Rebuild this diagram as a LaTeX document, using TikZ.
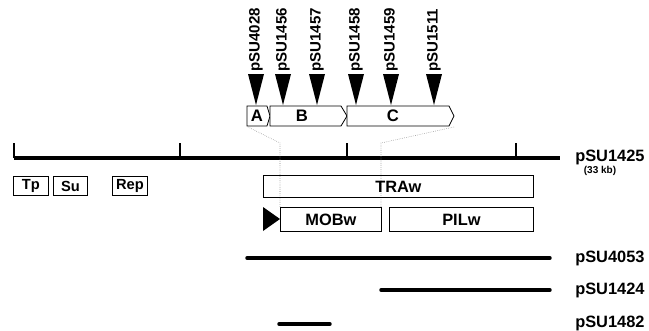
\documentclass[tikz,border=0pt]{standalone}
\usepackage{fontspec}
\setmainfont{Liberation Sans}
\begin{document}
\begin{tikzpicture}[x=0.75pt,y=-0.75pt,
  lbl/.style={font=\bfseries\fontsize{12.3}{12.3}\selectfont, anchor=west, inner sep=0pt},
  vlbl/.style={font=\bfseries\fontsize{11.3}{11.3}\selectfont, rotate=90, anchor=west, inner sep=0pt},
  gbox/.style={draw, line width=0.6pt, inner sep=0pt},
  smallbox/.style={font=\bfseries\fontsize{11}{11}\selectfont, draw, line width=0.6pt, inner sep=0pt, minimum height=14.5pt, anchor=north west},
  thickline/.style={line width=2.6pt},
  dotl/.style={densely dotted, line width=0.4pt, gray}]
\useasboundingbox (0,0) rectangle (649,330);

% main map line
\draw[line width=2.4pt] (14,158) coordinate (m0) -- (560,158) coordinate (m1);
\foreach \t in {14,180,347,516} \draw[line width=0.8pt] (\t,158) -- (\t,143);
\node[lbl] (l1425) at (575,157) {pSU1425};
\node[font=\bfseries\fontsize{7.5}{7.5}\selectfont, inner sep=0pt] (kb) at (600,171) {(33 kb)};

% gene arrows A B C
\draw[gbox, fill=white] (247,106) -- (267,106) -- (270,116) -- (267,126) -- (247,126) -- cycle;
\draw[gbox, fill=white] (270,106) -- (341,106) -- (347,116) -- (341,126) -- (270,126) -- (270,116) -- cycle;
\draw[gbox, fill=white] (347,106) -- (449,106) -- (454,116) -- (449,126) -- (347,126) -- cycle;
\node[font=\bfseries\fontsize{12.5}{12.5}\selectfont, inner sep=0pt] (A) at (257,116) {A};
\node[font=\bfseries\fontsize{12.5}{12.5}\selectfont, inner sep=0pt] (B) at (302,116) {B};
\node[font=\bfseries\fontsize{12.5}{12.5}\selectfont, inner sep=0pt] (C) at (393,116) {C};

% insertion markers
\foreach \x/\n in {256/pSU4028, 283/pSU1456, 317/pSU1457, 356/pSU1458, 391/pSU1459, 434/pSU1511} {
  \fill (\x-8,74) -- (\x+8,74) -- (\x,105) -- cycle;
  \node[vlbl] at (\x,72) {\n};
}

% dotted projection lines
\coordinate (dA) at (248,127);
\coordinate (dC) at (454,127);
\coordinate (p1) at (280,143);
\coordinate (p2) at (381,143);
\draw[dotl] (dA) -- (p1) -- (280,207);
\draw[dotl] (dC) -- (p2) -- (381,207);

% small boxes
\node[smallbox, minimum width=26.25pt] (Tp) at (13,176) {Tp};
\node[smallbox, minimum width=25.5pt] (Su) at (53,176) {Su};
\node[smallbox, minimum width=26.25pt] (Rep) at (112,176) {Rep};

% TRAw, MOBw, PILw
\node[gbox, anchor=north west, minimum width=202.5pt, minimum height=16.5pt, font=\bfseries\fontsize{12.3}{12.3}\selectfont] (TRA) at (263,175) {TRAw};
\node[gbox, anchor=north west, minimum width=75.75pt, minimum height=18pt, font=\bfseries\fontsize{12.3}{12.3}\selectfont] (MOB) at (280,207) {MOBw};
\node[gbox, anchor=north west, minimum width=108pt, minimum height=18pt, font=\bfseries\fontsize{12.3}{12.3}\selectfont] (PIL) at (389,207) {PILw};
\fill (263,207) -- (280,219) -- (263,231) -- cycle;

% subclones
\draw[thickline, line cap=round] (247,258) coordinate (s1a) -- (550,258) coordinate (s1b);
\node[lbl] (l4053) at (575,258) {pSU4053};
\draw[thickline, line cap=round] (381,290) coordinate (s2a) -- (550,290) coordinate (s2b);
\node[lbl] (l1424) at (575,290) {pSU1424};
\draw[thickline, line cap=round] (279,324) coordinate (s3a) -- (330,324) coordinate (s3b);
\node[lbl] (l1482) at (575,323) {pSU1482};
\end{tikzpicture}
\end{document}
